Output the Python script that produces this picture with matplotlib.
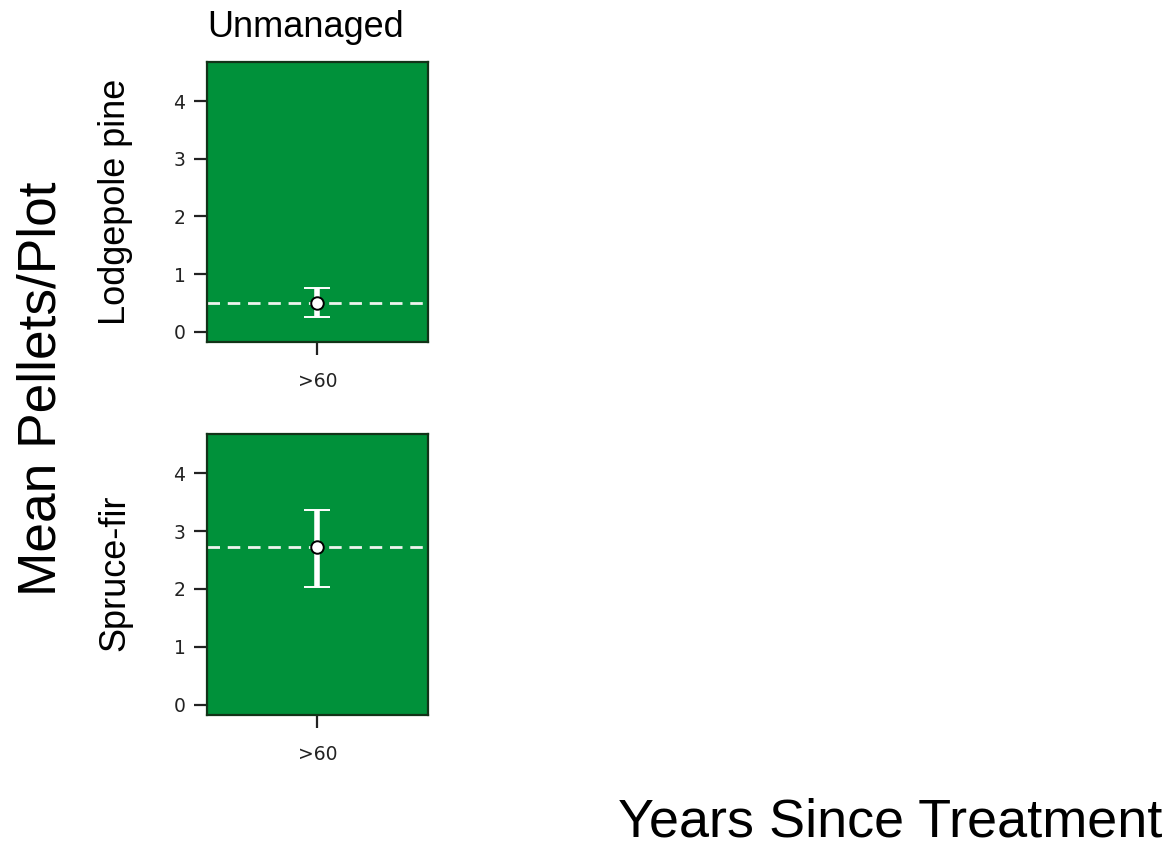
import matplotlib
matplotlib.use("Agg")
import matplotlib.pyplot as plt

# mean pellets per plot with lower / upper interval, unmanaged stands only
forest_types = ["Lodgepole pine", "Spruce-fir"]
age_classes = [">60"]
means = [0.50, 2.72]
lower = [0.25, 2.04]
upper = [0.76, 3.37]

panel_green = "#00913a"
sans = ["Liberation Sans", "DejaVu Sans"]

fig = plt.figure(figsize=(11.75, 8.5), dpi=100)

# axes boxes in figure fractions (left, bottom, width, height)
boxes = [
    [0.1762, 0.5976, 0.1880, 0.3294],
    [0.1762, 0.1588, 0.1880, 0.3306],
]
label_y = [0.763, 0.326]

for i, name in enumerate(forest_types):
    ax = fig.add_axes(boxes[i])
    ax.set_facecolor(panel_green)
    x = list(range(len(age_classes)))

    ax.axhline(means[i], color="#eef3ee", lw=2, ls=(0, (4.5, 2.8)), zorder=1)
    eb = ax.errorbar(x, [means[i]],
                     yerr=[[means[i] - lower[i]], [upper[i] - means[i]]],
                     fmt="o", color="white", ecolor="white", elinewidth=4,
                     capsize=9.5, capthick=5, markersize=9,
                     markerfacecolor="white", markeredgecolor="black",
                     markeredgewidth=1.4, zorder=3)
    for cap in eb[1]:
        cap.set_solid_capstyle("round")

    ax.set_xlim(-0.5, 0.5)
    ax.set_ylim(-0.18, 4.68)
    ax.set_xticks(x)
    ax.set_xticklabels(age_classes)
    ax.set_yticks([0, 1, 2, 3, 4])
    ax.tick_params(axis="both", direction="out", length=9.5, width=1.6,
                   color="#222222", labelsize=13.5, labelcolor="#222222")
    ax.tick_params(axis="x", pad=12)
    ax.tick_params(axis="y", pad=6)
    for sp in ax.spines.values():
        sp.set_linewidth(1.6)
        sp.set_color("#123318")

    fig.text(0.098, label_y[i], name, rotation=90, ha="center", va="center",
             fontsize=26, family=sans)

fig.text(0.260, 0.9565, "Unmanaged", ha="center", va="baseline",
         fontsize=26, family=sans)
fig.text(0.035, 0.543, "Mean Pellets/Plot", rotation=90, ha="center",
         va="center", fontsize=38.3, family=sans)
fig.text(0.758, 0.016, "Years Since Treatment", ha="center", va="baseline",
         fontsize=38.9, family=sans)

fig.savefig("out.png", dpi=100, facecolor="white")
